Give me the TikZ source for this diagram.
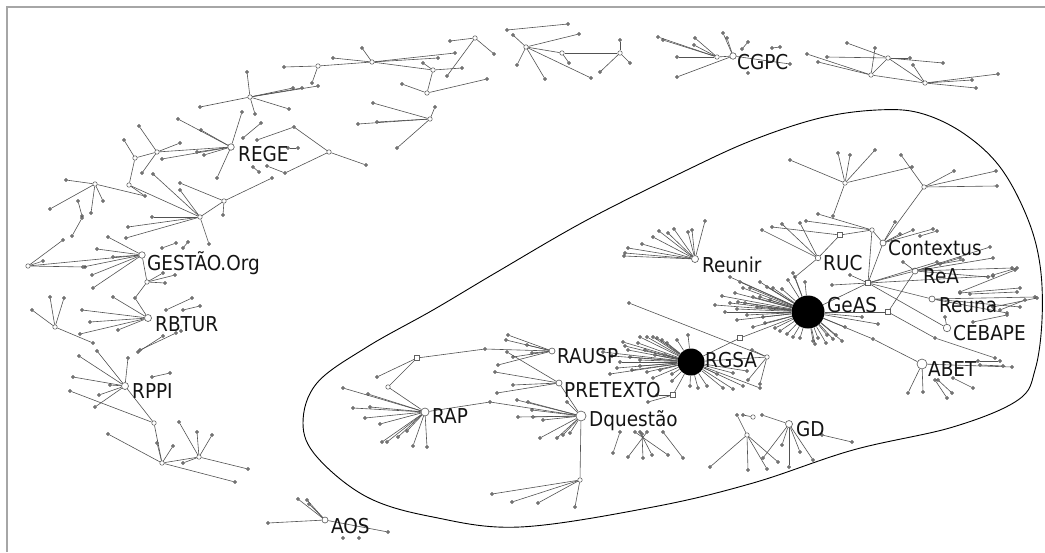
\documentclass[tikz,border=0pt]{standalone}
\usepackage{fontspec}
\newfontfamily\lbfont{DejaVu Sans Condensed}
\tikzset{
  link/.style={draw=black!68, line width=0.6pt},
  leaf/.style={circle, fill=black!50, draw=black!72, line width=0.35pt, inner sep=0pt, minimum size=3.1pt},
  knot/.style={circle, draw=black!62, fill=white, line width=0.55pt, inner sep=0pt, minimum size=4.5pt},
  box/.style={rectangle, draw=black!62, fill=white, line width=0.55pt, inner sep=0pt, minimum size=5pt},
  hub/.style={circle, draw=black!62, fill=white, line width=0.65pt, inner sep=0pt, minimum size=#1},
  hub/.default=6.5pt,
  blob/.style={circle, fill=black, inner sep=0pt, minimum size=#1},
  lbl/.style={font=\lbfont\fontsize{20.5}{20.5}\selectfont, anchor=base west, inner sep=0pt, text=black!92},
  frame/.style={draw=black!35, line width=1.4pt},
  fence/.style={draw=black, line width=0.9pt}
}
\begin{document}
\begin{tikzpicture}[x=1pt, y=-1pt]
    \useasboundingbox (0,0) rectangle (1045,552);
    \draw[frame] (7,552) -- (7,7) -- (1045,7);

    % the closed line round the main component
    \draw[fence] plot[smooth cycle, tension=0.6] coordinates {
        (303,423) (317,383) (367,347) (433,310) (497,272) (587,220) (687,170)
        (753,140) (820,118) (877,110) (920,113) (963,133) (1000,167) (1027,217)
        (1040,265) (1042,320) (1035,370) (1018,400) (953,427) (853,450)
        (753,483) (653,507) (520,527) (433,517) (367,497) (317,457)};

    % labelled journals
    \node[hub] (rege) at (231,147) {};
    \node[hub] (gestao) at (142,255) {};
    \node[hub=7pt] (rbtur) at (148,318) {};
    \node[hub=7pt] (rppi) at (125,386) {};
    \node[hub=6pt] (aos) at (325,520) {};
    \node[hub] (cgpc) at (733,56) {};
    \node[hub=7pt] (reunir) at (695,259) {};
    \node[hub=5.5pt] (ruc) at (818,258) {};
    \node[hub=6pt] (contextus) at (883,243) {};
    \node[hub=6pt] (rea) at (915,271) {};
    \node[hub=6pt] (reuna) at (932,299) {};
    \node[hub=7.5pt] (cebape) at (947,328) {};
    \node[hub=10pt] (abet) at (922,364) {};
    \node[hub=6pt] (rausp) at (552,351) {};
    \node[hub=6pt] (pretexto) at (559,383) {};
    \node[hub=10pt] (dquestao) at (581,416) {};
    \node[hub=8pt] (rap) at (425,412) {};
    \node[hub=7pt] (gd) at (789,424) {};
    \node[blob=33pt] (geas) at (808,312) {};
    \node[blob=27pt] (rgsa) at (691,362) {};

    % junctions
    \foreach \n/\x/\y in {k1/475/38, k2/433/70, k3/427/93, k4/372/62, k5/318/66,
        k6/430/119, k7/250/97, k8/157/152, k9/135/158, k10/129/185, k11/95/184,
        k12/200/217, k13/224/201, k14/28/266, k15/147/282, k16/55/327,
        k17/154/423, k18/162/463, k19/199/457, k20/526/47, k21/562/53,
        k22/620/53, k23/717/57, k24/871/75, k25/888/58, k26/925/83,
        k30/845/183, k31/924/187, k33/872/230, k37/767/357, k41/388/387,
        k45/580/480, k47/747/435, k52/753/417, k60/329/152}
        \node[knot] (\n) at (\x,\y) {};
    \foreach \n/\x/\y in {k32/840/235, k34/868/283, k35/888/312, k36/740/338,
        k38/673/395, k40/417/358}
        \node[box] (\n) at (\x,\y) {};
    \foreach \n/\x/\y in {p1/145/196, k39/485/349, k42/490/402, k48/795/277,
        k49/935/338, k50/135/298, k51/873/339, k61/294/127, k62/285/173}
        \node[leaf] (\n) at (\x,\y) {};

    \foreach \a/\b in {k4/k5, k4/k2, k2/k3, rege/k8, k8/k9, k9/k10, k10/p1,
        k11/p1, k10/k12, k12/k13, k14/gestao, gestao/k15, k15/k50, k50/rbtur,
        rppi/k17, k17/k18, k18/k19, k20/k21, k21/k22, k23/cgpc, k24/k25,
        k24/k26, k25/k26, k31/contextus, ruc/k48, k48/geas, ruc/k32, k32/k33,
        k33/contextus, k33/k34, contextus/k34, k34/geas, k34/rea, k34/reuna,
        k34/cebape, k35/rea, geas/k35, k35/k49, geas/k51, k51/abet, geas/k36,
        k36/rgsa, rgsa/k37, rgsa/k38, rausp/k39, k39/k40, k40/k41, k41/rap,
        rap/k42, k42/dquestao, dquestao/k45, pretexto/dquestao, k60/k61,
        k60/k62}
        \draw[link] (\a) -- (\b);

    % leaves
    \foreach \h/\x/\y [count=\i] in {
        k1/450/41, k1/494/54, k1/447/76, k2/462/68, k2/423/63, k3/487/79,
        k3/402/84, k4/455/53, k4/438/58, k4/362/48, k4/333/58, k5/284/67,
        k5/312/83, k6/373/103, k6/358/124, k6/377/122, k6/435/107, k6/397/148,
        k7/247/72, k7/200/107, k7/318/86, k7/293/88, k7/302/88, k7/289/109,
        k7/255/114, rege/242/112, rege/217/178, rege/201/130, rege/178/119,
        rege/162/159, rege/197/152, rege/204/155, k8/139/126, k8/180/143,
        k8/142/173, k9/124/140, k11/66/180, k11/50/209, k11/91/213,
        k11/103/201, k12/180/190, k12/209/244, k12/128/227, k12/126/238,
        k12/152/217, k12/153/174, k13/272/178, k13/223/215, k13/180/183,
        k14/63/240, k14/85/267, k14/43/261, gestao/108/237, gestao/97/249,
        gestao/113/257, gestao/83/267, gestao/92/275, gestao/93/288,
        k15/163/273, k15/175/275, k15/165/283, rbtur/113/297, rbtur/82/310,
        rbtur/90/322, rbtur/80/334, rbtur/118/330, k16/32/310, k16/50/297,
        k16/64/298, k16/93/343, rppi/79/356, rppi/97/351, rppi/128/358,
        rppi/73/377, rppi/110/385, rppi/99/395, rppi/95/407, k17/70/391,
        k18/108/434, k18/235/482, k18/173/446, k18/157/443, k19/197/432,
        k19/179/422, k19/248/469, k19/212/435, k19/183/463,
        k60/366/165, k61/257/140, k62/267/166,
        aos/268/523, aos/298/499, aos/307/500, aos/309/504, aos/388/532,
        k20/513/35, k20/517/65, k20/545/79, k20/591/78, k20/579/34,
        k21/569/63, k22/630/63, k22/600/72, k22/620/40,
        k23/658/37, k23/677/57, k23/695/38, k23/694/45, k23/663/40,
        cgpc/723/33, cgpc/727/38, cgpc/677/77, cgpc/790/64,
        k24/807/54, k24/818/62, k24/875/48, k25/847/43, k25/827/57,
        k25/943/63, k25/910/58, k26/972/80, k26/998/74, k26/976/88,
        k26/913/65,
        reunir/705/221, reunir/692/230, reunir/688/232, reunir/674/229,
        reunir/668/233, reunir/659/231, reunir/653/237, reunir/642/244,
        reunir/628/248, reunir/625/253, reunir/624/256,
        k30/790/160, k30/838/153, k30/850/155, k30/875/150, k30/912/167,
        k30/833/216, k31/901/155, k31/954/171, k31/996/171, k31/997/186,
        ruc/762/230, ruc/782/224, ruc/800/223, k32/772/227, k33/818/214,
        k33/806/221, contextus/895/222, contextus/913/230, contextus/933/229,
        contextus/900/234, k34/832/285, k34/993/276, k34/937/262, k34/850/275,
        rea/903/262, rea/960/258, rea/990/247, rea/993/258, rea/988/277,
        rea/1012/268, reuna/1035/297, reuna/1020/307, reuna/1007/313,
        cebape/945/317, k49/995/358,
        abet/908/393, abet/923/392, abet/1012/367,
        geas/730/277, geas/735/293, geas/738/302, geas/737/309, geas/747/315,
        geas/760/282, geas/767/287, geas/773/288, geas/763/317, geas/765/323,
        geas/775/328, geas/780/331, geas/787/334, geas/793/337, geas/800/338,
        geas/813/341, geas/818/338, geas/827/335, geas/833/339, geas/842/341,
        geas/788/280, geas/805/282, geas/782/289, geas/753/297, geas/757/307,
        geas/743/288, geas/740/282, geas/725/312, geas/730/303, geas/737/320,
        geas/753/327, geas/793/273, geas/862/317, geas/878/324, geas/845/327,
        geas/836/335, geas/826/343, geas/815/344, geas/750/288, geas/722/296,
        geas/745/303, geas/770/300, geas/770/308, geas/715/305, geas/760/297,
        rgsa/640/337, rgsa/653/337, rgsa/662/340, rgsa/623/342, rgsa/625/346,
        rgsa/630/357, rgsa/640/360, rgsa/620/362, rgsa/617/368, rgsa/632/370,
        rgsa/647/372, rgsa/660/370, rgsa/672/374, rgsa/610/374, rgsa/688/335,
        rgsa/677/340, rgsa/653/378, rgsa/672/381, rgsa/690/386, rgsa/698/388,
        rgsa/707/386, rgsa/723/388, rgsa/733/389, rgsa/743/386, rgsa/760/388,
        rgsa/747/371, rgsa/733/373, rgsa/717/374, rgsa/638/343, rgsa/647/337,
        rgsa/657/338, rgsa/667/343, rgsa/603/352, rgsa/612/356, rgsa/628/350,
        rgsa/645/350, rgsa/655/355, rgsa/665/355, rgsa/640/366,
        k37/629/303, k37/760/384, k37/748/380, k37/752/350,
        k38/657/395, k38/648/402,
        rausp/508/335, rausp/506/340, rausp/527/345, rausp/532/353,
        rausp/498/365, rausp/513/357, pretexto/495/372, pretexto/497/393,
        pretexto/513/385, pretexto/507/352, k40/377/377,
        rap/343/388, rap/368/394, rap/353/408, rap/370/407, rap/365/418,
        rap/380/424, rap/382/442, rap/387/442, rap/398/437, rap/407/431,
        rap/413/446, rap/427/447,
        dquestao/517/400, dquestao/528/402, dquestao/532/410, dquestao/518/417,
        dquestao/533/417, dquestao/543/420, dquestao/540/438, dquestao/557/438,
        dquestao/563/435, dquestao/570/433, dquestao/567/402,
        k45/492/494, k45/512/502, k45/538/503, k45/575/507,
        k47/710/467, k47/748/470, k47/767/469, k47/737/415, k47/778/462,
        k52/743/415, gd/763/458, gd/813/460, gd/782/445, gd/789/467,
        gd/762/415, gd/800/452}{
        \node[leaf] (lf-\i) at (\x,\y) {};
        \draw[link] (\h) -- (lf-\i);
    }

    % loose pairs
    \foreach \xa/\ya/\xb/\yb [count=\i] in {243/138/261/123, 253/167/259/172,
        288/148/298/148, 162/248/176/243, 183/248/188/242, 166/310/192/298,
        183/310/200/306, 138/352/163/336, 140/350/176/333, 152/377/170/373,
        78/201/82/216, 82/218/72/236, 507/30/568/24, 772/48/780/47,
        742/49/748/42, 822/435/852/442, 920/236/937/231, 940/264/963/260,
        960/293/1020/288, 960/292/1015/270, 970/294/1017/292,
        993/307/1037/298, 1000/310/1025/300, 973/322/1007/315,
        993/275/1017/268, 953/378/973/388, 935/380/947/398, 938/380/952/393,
        978/361/1000/361, 980/365/1003/366, 620/432/613/453, 635/432/668/455,
        647/432/628/457, 640/432/652/455, 663/432/683/458, 642/434/643/458}{
        \node[leaf] (pa-\i) at (\xa,\ya) {};
        \node[leaf] (pb-\i) at (\xb,\yb) {};
        \draw[link] (pa-\i) -- (pb-\i);
    }
    \foreach \x/\y [count=\i] in {748/73, 343/538, 359/538, 181/331}
        \node[leaf] (dot-\i) at (\x,\y) {};

    % names
    \foreach \n/\x/\y/\t in {rege/238/161/REGE, gestao/147/270/GESTÃO.Org,
        rbtur/155/331/RBTUR, rppi/132/398/RPPI, aos/331/533/AOS,
        rap/432/423/RAP, cgpc/737/69/CGPC, reunir/702/272/Reunir,
        ruc/823/270/RUC, contextus/888/255/Contextus, rea/923/283/ReA,
        reuna/939/312/Reuna, cebape/953/340/CEBAPE, geas/827/312/GeAS,
        rgsa/705/367/RGSA, abet/928/376/ABET, rausp/557/363/RAUSP,
        pretexto/564/397/PRETEXTO, dquestao/589/426/Dquestão, gd/796/436/GD}
        \node[lbl] (lab-\n) at (\x,\y) {\t};
\end{tikzpicture}
\end{document}
